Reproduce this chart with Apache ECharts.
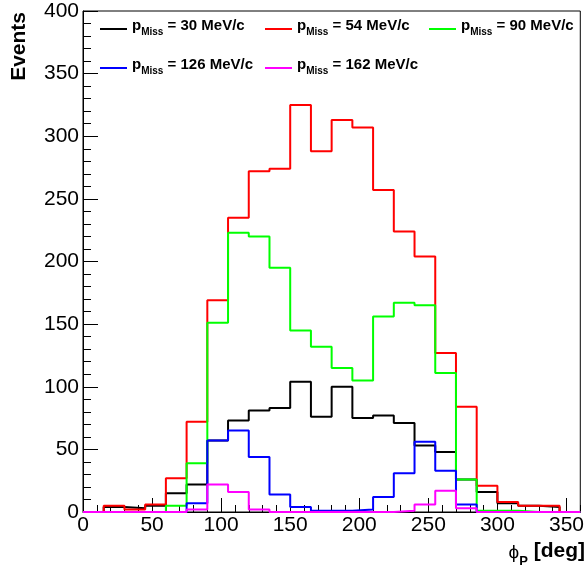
<!DOCTYPE html>
<html>
<head>
<meta charset="utf-8">
<script src="https://cdn.jsdelivr.net/npm/echarts@6/dist/echarts.min.js"></script>
<style>html,body{margin:0;padding:0;background:#fff;}#c{width:587px;height:571px;}</style>
</head>
<body>
<div id="c"></div>
<script>
const binEdges = [0,15,30,45,60,75,90,105,120,135,150,165,180,195,210,225,240,255,270,285,300,315,330,345];
const xMaxEdge = 360;
const seriesNames = ['30', '54', '90', '126', '162'];
const vals30  = [0,4,3,5,15,22,57,73,81,83,104,76,100,75,77,71,53,48,26,16,7,5,4,0];
const vals54  = [0,5,2,6,27,72,169,235,272,274,325,288,313,307,257,224,204,127,84,21,8,5,5,0];
const vals90  = [0,0,0,0,5,39,151,223,220,195,145,132,115,105,156,167,165,111,26,1,1,0,0,0];
const vals126 = [0,0,0,0,0,7,57,65,44,14,4,1,1,2,12,31,56,33,6,0,0,0,0,0];
const vals162 = [0,0,0,0,0,2,22,16,2,0,0,0,0,0,0,1,6,17,3,0,0,0,0,0];
const colors = ['#000000', '#ff0000', '#00ff00', '#0000ff', '#ff00ff'];
const allVals = [vals30, vals54, vals90, vals126, vals162];

function toSteps(v) {
  const d = binEdges.map((e, i) => [e, v[i]]);
  d.push([xMaxEdge, v[v.length - 1]]);
  return d;
}

const FONT = "'Liberation Sans', Arial, Helvetica, sans-serif";
const legendPos = [[100, 18], [265, 18], [429, 18], [100, 57], [265, 57]];

const series = seriesNames.map((n, i) => ({
  name: 'pMiss = ' + n + ' MeV/c',
  type: 'line',
  step: 'end',
  showSymbol: false,
  symbol: 'none',
  color: colors[i],
  lineStyle: { color: colors[i], width: 2 },
  data: toSteps(allVals[i]),
  animation: false,
  z: 2 + i
}));

const legends = seriesNames.map((n, i) => ({
  data: ['pMiss = ' + n + ' MeV/c'],
  left: legendPos[i][0],
  top: legendPos[i][1],
  icon: 'rect',
  itemWidth: 27,
  itemHeight: 2,
  itemGap: 0,
  selectedMode: false,
  padding: 0,
  formatter: function () { return '{p|p}{s|Miss}{t| = ' + n + ' MeV/c}'; },
  textStyle: {
    fontFamily: FONT,
    rich: {
      p: { fontSize: 15, fontWeight: 'bold', color: '#000', fontFamily: FONT, lineHeight: 16, padding: [0,0,4,0], verticalAlign: 'bottom' },
      s: { fontSize: 10, fontWeight: 'bold', color: '#000', fontFamily: FONT, lineHeight: 11, verticalAlign: 'bottom' },
      t: { fontSize: 15, fontWeight: 'bold', color: '#000', fontFamily: FONT, lineHeight: 16, padding: [0,0,4,0], verticalAlign: 'bottom' }
    }
  }
}));

const chart = echarts.init(document.getElementById('c'), null, { renderer: 'canvas' });
chart.setOption({
  animation: false,
  backgroundColor: '#fff',
  grid: { left: 83, top: 11, right: 3, bottom: 59, show: true, borderColor: '#000', borderWidth: 1, backgroundColor: 'transparent' },
  legend: legends,
  xAxis: [{
    type: 'value', min: 0, max: 360, interval: 50,
    axisLine: { show: true, lineStyle: { color: '#000', width: 1 } },
    axisTick: { show: true, inside: true, length: 14, lineStyle: { color: '#000', width: 1 } },
    splitLine: { show: false },
    axisLabel: { show: true, showMaxLabel: false, margin: 3, color: '#000', fontSize: 21, fontFamily: FONT }
  }, {
    type: 'value', min: 0, max: 360, interval: 10, position: 'bottom',
    axisLine: { show: false },
    axisTick: { show: true, inside: true, length: 7, lineStyle: { color: '#000', width: 1 } },
    splitLine: { show: false },
    axisLabel: { show: false }
  }],
  yAxis: {
    type: 'value', min: 0, max: 400, interval: 50,
    axisLine: { show: true, lineStyle: { color: '#000', width: 1 } },
    axisTick: { show: true, inside: true, length: 15, lineStyle: { color: '#000', width: 1 } },
    minorTick: { show: true, splitNumber: 5, length: 8, lineStyle: { color: '#000', width: 1 } },
    splitLine: { show: false },
    minorSplitLine: { show: false },
    axisLabel: { show: true, margin: 4, color: '#000', fontSize: 21, fontFamily: FONT }
  },
  graphic: [{
    type: 'text',
    x: 19, y: 12,
    rotation: Math.PI / 2,
    style: { text: 'Events', font: 'bold 21px ' + FONT, fill: '#000', align: 'right', verticalAlign: 'middle' }
  }, {
    type: 'text',
    right: 2, top: 541,
    style: {
      text: '{f|ϕ}{s|P}{t| [deg]}',
      fill: '#000',
      rich: {
        f: { fontSize: 19, fontFamily: FONT, fill: '#000', lineHeight: 20, padding: [0,0,6,0], verticalAlign: 'bottom' },
        s: { fontSize: 13, fontWeight: 'bold', fontFamily: FONT, fill: '#000', lineHeight: 13, verticalAlign: 'bottom' },
        t: { fontSize: 21, fontWeight: 'bold', fontFamily: FONT, fill: '#000', lineHeight: 20, padding: [0,0,6,0], verticalAlign: 'bottom' }
      }
    }
  }],
  series: series
});
</script>
</body>
</html>
